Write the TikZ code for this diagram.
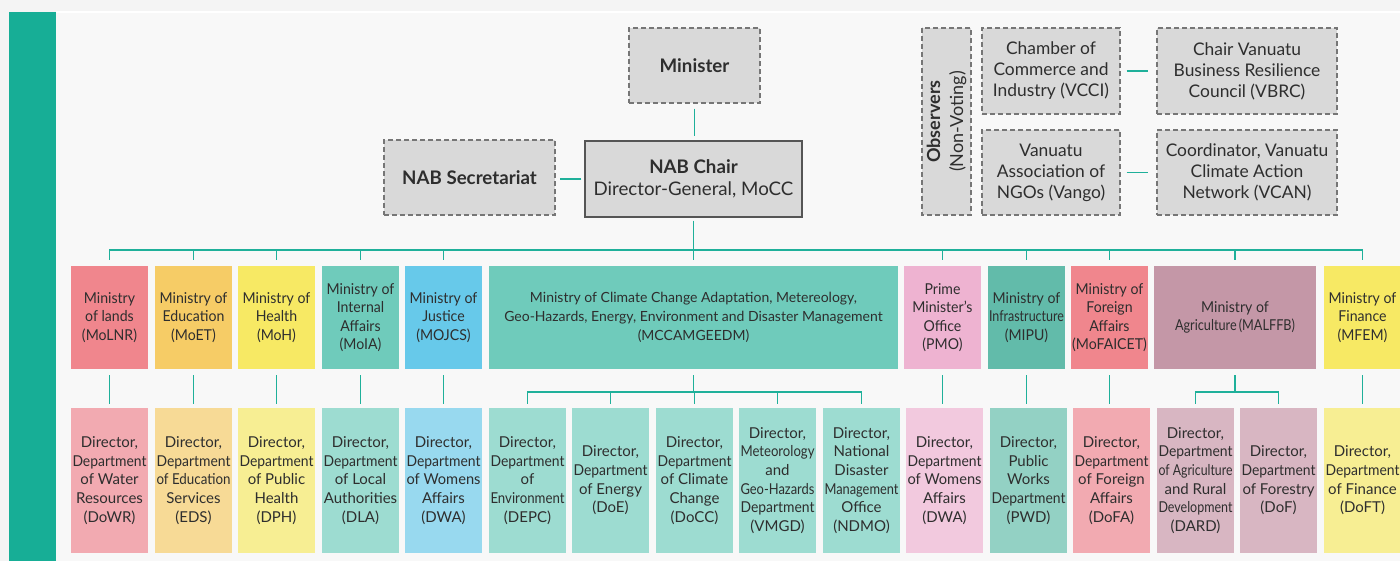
\documentclass[tikz,border=0pt]{standalone}
\usepackage{fontspec}
\usepackage{graphicx}
\setmainfont{Lato}
\definecolor{bgA}{HTML}{F4F4F4}
\definecolor{bgB}{HTML}{F8F8F8}
\definecolor{barc}{HTML}{17AE96}
\definecolor{connc}{HTML}{1FB09A}
\definecolor{txt}{HTML}{2E2E2E}
\definecolor{boxgrey}{HTML}{D9D9D9}
\definecolor{dashgrey}{HTML}{767676}
\definecolor{chairline}{HTML}{555555}
\definecolor{mlands}{HTML}{F0868D}\definecolor{dlands}{HTML}{F2AAB1}
\definecolor{medu}{HTML}{F6CC66}\definecolor{dedu}{HTML}{F7DA96}
\definecolor{myel}{HTML}{F7E964}\definecolor{dyel}{HTML}{F7EE93}
\definecolor{mteal}{HTML}{6FCBBB}\definecolor{dteal}{HTML}{9DDCD1}
\definecolor{mjust}{HTML}{67C9EA}\definecolor{djust}{HTML}{98D9EF}
\definecolor{mpmo}{HTML}{EEB3D1}\definecolor{dpmo}{HTML}{F2C9DE}
\definecolor{minfra}{HTML}{62BBAA}\definecolor{dinfra}{HTML}{93D1C4}
\definecolor{magri}{HTML}{C497A7}\definecolor{dagri}{HTML}{D8B6C2}
\newsavebox\fitbx
% director lines: natural width, squeezed to at most 74pt
\newcommand\F[1]{\sbox\fitbx{#1}\ifdim\wd\fitbx>74pt\resizebox{74pt}{\ht\fitbx}{\usebox\fitbx}\else\usebox\fitbx\fi}
% ministry lines: tight tracking, at most 75pt
\newcommand\G[1]{\sbox\fitbx{\scalebox{0.94}[1]{#1}}\ifdim\wd\fitbx>75pt\resizebox{75pt}{\ht\fitbx}{\usebox\fitbx}\else\usebox\fitbx\fi}
\begin{document}
\begin{tikzpicture}[x=1pt,y=-1pt,
  box/.style={inner sep=0pt, align=center, text=txt, font=\fontsize{15}{18.7}\selectfont},
  mbox/.style={box, minimum width=77pt, minimum height=103pt, font=\fontsize{15}{18.3}\selectfont},
  dbox/.style={box, minimum width=77pt, minimum height=145pt},
  greybox/.style={fill=boxgrey, draw=dashgrey, line width=1.2pt, dash pattern=on 5pt off 3pt,
    inner sep=0pt, align=center, text=txt, font=\fontsize{17.4}{21}\selectfont},
  chairbox/.style={fill=boxgrey, draw=chairline, line width=1.2pt, inner sep=0pt, align=center,
    text=txt, font=\fontsize{18.7}{22}\selectfont},
  conn/.style={draw=connc, line width=1.8pt}]
\useasboundingbox (0,0) rectangle (1400,561);
\fill[bgA] (0,0) rectangle (1400,561);
\fill[white] (56,11) rectangle (1400,13);
\fill[bgB] (56,13) rectangle (1400,561);
\fill[barc] (9,12) rectangle (56,561);

% top
\node[greybox, minimum width=131pt, minimum height=75pt, font=\fontsize{18.7}{22}\selectfont] (minister) at (694.5,65.5) {\bfseries Minister};
\node[chairbox, minimum width=217pt, minimum height=76pt] (chair) at (693.5,179) {\bfseries NAB Chair\\Director-General, MoCC};
\node[greybox, minimum width=171pt, minimum height=75pt, font=\fontsize{18.7}{22}\selectfont] (sec) at (469.5,177.5) {\bfseries NAB Secretariat};
\node[greybox, rotate=90, minimum width=187pt, minimum height=49pt, font=\fontsize{18}{23}\selectfont] (obs) at (946.5,121.5) {\bfseries Observers\\(Non-Voting)};
\node[greybox, minimum width=138pt, minimum height=86pt] (vcci) at (1051,71) {Chamber of\\Commerce and\\Industry (VCCI)};
\node[greybox, minimum width=180pt, minimum height=86pt] (vbrc) at (1247,71) {Chair Vanuatu\\Business Resilience\\Council (VBRC)};
\node[greybox, minimum width=138pt, minimum height=85pt] (vango) at (1051,172.5) {Vanuatu\\Association of\\NGOs (Vango)};
\node[greybox, minimum width=180pt, minimum height=85pt] (vcan) at (1247,172.5) {Coordinator, Vanuatu\\Climate Action\\Network (VCAN)};

\draw[conn, shorten <=5pt, shorten >=4pt] (minister.south) -- (minister.south |- chair.north);
\draw[conn, shorten <=3pt, shorten >=4pt] (chair.west) -- (chair.west -| sec.east);
\draw[conn, shorten <=6pt, shorten >=8pt] (vcci.east) -- (vbrc.west);
\draw[conn, shorten <=6pt, shorten >=8pt] (vango.east) -- (vcan.west);

% ministries
\node[mbox, fill=mlands] (molnr) at (109.5,317.5) {\G{Ministry}\\\G{of lands}\\\G{(MoLNR)}};
\node[mbox, fill=medu] (moet) at (193.5,317.5) {\G{Ministry of}\\\G{Education}\\\G{(MoET)}};
\node[mbox, fill=myel] (moh) at (276.5,317.5) {\G{Ministry of}\\\G{Health}\\\G{(MoH)}};
\node[mbox, fill=mteal] (moia) at (360.5,317.5) {\G{Ministry of}\\\G{Internal}\\\G{Affairs}\\\G{(MoIA)}};
\node[mbox, fill=mjust] (mojcs) at (443.5,317.5) {\G{Ministry of}\\\G{Justice}\\\G{(MOJCS)}};
\node[mbox, fill=mteal, minimum width=409pt, font=\fontsize{14}{18.7}\selectfont] (mcc) at (693.5,317.5) {Ministry of Climate Change Adaptation, Metereology,\\Geo-Hazards, Energy, Environment and Disaster Management\\(MCCAMGEEDM)};
\node[mbox, fill=mpmo] (pmo) at (942.5,317.5) {\G{Prime}\\\G{Minister’s}\\\G{Office}\\\G{(PMO)}};
\node[mbox, fill=minfra] (mipu) at (1026.5,317.5) {\G{Ministry of}\\\G{Infrastructure}\\\G{(MIPU)}};
\node[mbox, fill=mlands] (mofa) at (1109.5,317.5) {\G{Ministry of}\\\G{Foreign}\\\G{Affairs}\\\G{(MoFAICET)}};
\node[mbox, fill=magri, minimum width=162pt] (malffb) at (1235,317.5) {\G{Ministry of}\\\resizebox{120pt}{\height}{Agriculture\,(MALFFB)}};
\node[mbox, fill=myel] (mfem) at (1362.5,317.5) {\G{Ministry of}\\\G{Finance}\\\G{(MFEM)}};

% directors
\node[dbox, fill=dlands] (dowr) at (109.5,480.5) {\F{Director,}\\\F{Department}\\\F{of Water}\\\F{Resources}\\\F{(DoWR)}};
\node[dbox, fill=dedu] (eds) at (193.5,480.5) {\F{Director,}\\\F{Department}\\\F{of Education}\\\F{Services}\\\F{(EDS)}};
\node[dbox, fill=dyel] (dph) at (276.5,480.5) {\F{Director,}\\\F{Department}\\\F{of Public}\\\F{Health}\\\F{(DPH)}};
\node[dbox, fill=dteal] (dla) at (360.5,480.5) {\F{Director,}\\\F{Department}\\\F{of Local}\\\F{Authorities}\\\F{(DLA)}};
\node[dbox, fill=djust] (dwa) at (443.5,480.5) {\F{Director,}\\\F{Department}\\\F{of Womens}\\\F{Affairs}\\\F{(DWA)}};
\node[dbox, fill=dteal] (depc) at (527.5,480.5) {\F{Director,}\\\F{Department}\\\F{of}\\\F{Environment}\\\F{(DEPC)}};
\node[dbox, fill=dteal] (doe) at (610.5,480.5) {\F{Director,}\\\F{Department}\\\F{of Energy}\\\F{(DoE)}};
\node[dbox, fill=dteal] (docc) at (694.5,480.5) {\F{Director,}\\\F{Department}\\\F{of Climate}\\\F{Change}\\\F{(DoCC)}};
\node[dbox, fill=dteal] (vmgd) at (777.5,480.5) {\F{Director,}\\\F{Meteorology}\\\F{and}\\\F{Geo-Hazards}\\\F{Department}\\\F{(VMGD)}};
\node[dbox, fill=dteal] (ndmo) at (861.5,480.5) {\F{Director,}\\\F{National}\\\F{Disaster}\\\F{Management}\\\F{Office}\\\F{(NDMO)}};
\node[dbox, fill=dpmo] (dwab) at (944.5,480.5) {\F{Director,}\\\F{Department}\\\F{of Womens}\\\F{Affairs}\\\F{(DWA)}};
\node[dbox, fill=dinfra] (pwd) at (1028.5,480.5) {\F{Director,}\\\F{Public}\\\F{Works}\\\F{Department}\\\F{(PWD)}};
\node[dbox, fill=dlands] (dofa) at (1111.5,480.5) {\F{Director,}\\\F{Department}\\\F{of Foreign}\\\F{Affairs}\\\F{(DoFA)}};
\node[dbox, fill=dagri] (dard) at (1195.5,480.5) {\F{Director,}\\\F{Department}\\\F{of Agriculture}\\\F{and Rural}\\\F{Development}\\\F{(DARD)}};
\node[dbox, fill=dagri] (dof) at (1278.5,480.5) {\F{Director,}\\\F{Department}\\\F{of Forestry}\\\F{(DoF)}};
\node[dbox, fill=dyel] (doft) at (1362.5,480.5) {\F{Director,}\\\F{Department}\\\F{of Finance}\\\F{(DoFT)}};

% main bus
\coordinate (bus) at (693.5,250);
\draw[conn, shorten <=3pt] (chair.south) -- (chair.south |- bus);
\draw[conn, line cap=rect] (molnr.north |- bus) -- (mfem.north |- bus);
\foreach \m in {molnr,moet,moh,moia,mojcs,mcc,pmo,mipu,mofa,malffb,mfem}
  \draw[conn, shorten >=6pt] (\m.north |- bus) -- (\m.north);

% single links
\foreach \m/\d in {molnr/dowr,moet/eds,moh/dph,moia/dla,mojcs/dwa,pmo/dwab,mipu/pwd,mofa/dofa,mfem/doft}
  \draw[conn, shorten <=6pt, shorten >=4pt] (\m.south) -- (\m.south |- \d.north);

% MCC sub bus
\coordinate (mbus) at (693.5,392);
\draw[conn, shorten <=6pt] (mcc.south) -- (mcc.south |- mbus);
\draw[conn, line cap=rect] (depc.north |- mbus) -- (ndmo.north |- mbus);
\foreach \d in {depc,doe,docc,vmgd,ndmo}
  \draw[conn, shorten >=4pt] (\d.north |- mbus) -- (\d.north);

% agriculture sub bus
\coordinate (abus) at (1235,392);
\draw[conn, shorten <=6pt] (malffb.south) -- (malffb.south |- abus);
\draw[conn, line cap=rect] (dard.north |- abus) -- (dof.north |- abus);
\foreach \d in {dard,dof}
  \draw[conn, shorten >=4pt] (\d.north |- abus) -- (\d.north);
\end{tikzpicture}
\end{document}
